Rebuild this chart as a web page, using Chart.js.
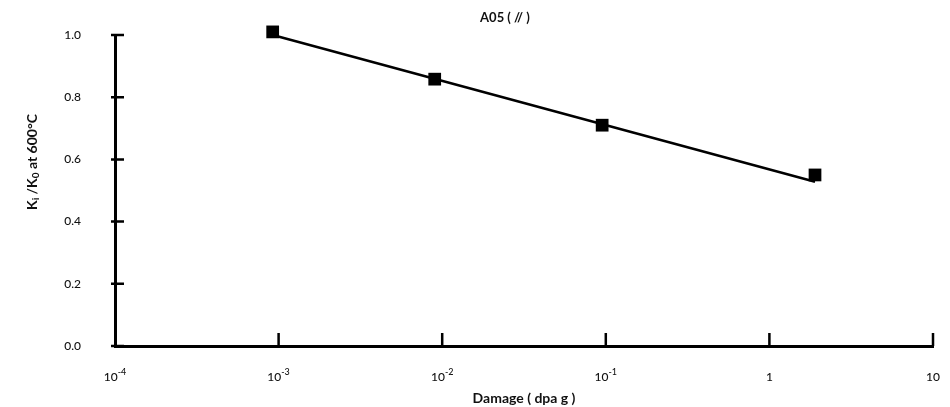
<!DOCTYPE html>
<html>
<head>
<meta charset="utf-8">
<script src="https://cdn.jsdelivr.net/npm/chart.js@4/dist/chart.umd.min.js"></script>
<style>
  html, body { margin: 0; padding: 0; background: #fff; }
  #wrap { width: 950px; height: 407px; }
</style>
</head>
<body>
<div id="wrap"><canvas id="chart"></canvas></div>
<script>
// Measured ratio vs. damage dose
const damage = [9.2e-4, 9.0e-3, 0.095, 1.9];
const ratio = [1.01, 0.858, 0.71, 0.55];

// Fitted line, end points
const fitDamage = [9.2e-4, 1.9];
const fitRatio = [1.0, 0.528];

// x tick labels: base and exponent (empty exponent = plain label)
const xTickValues = [1e-4, 1e-3, 1e-2, 1e-1, 1, 10];
const xTickBase = ['10', '10', '10', '10', '1', '10'];
const xTickExp = ['-4', '-3', '-2', '-1', '', ''];
const yTickValues = [0, 0.2, 0.4, 0.6, 0.8, 1.0];
const yTickLabels = ['0.0', '0.2', '0.4', '0.6', '0.8', '1.0'];

const FONT = 'Lato, "DejaVu Sans", sans-serif';
const INK = '#111';

// draws a run of [text, baseline shift, size, weight] pieces centred on (0, 0)
function drawRuns(ctx, parts) {
    const fontOf = p => (p[3] || 'bold') + ' ' + p[2] + 'px ' + FONT;
    let total = 0;
    parts.forEach(p => {
        ctx.font = fontOf(p);
        total += ctx.measureText(p[0]).width;
    });
    let cx = -total / 2;
    ctx.textAlign = 'left';
    parts.forEach(p => {
        ctx.font = fontOf(p);
        ctx.fillText(p[0], cx, p[1]);
        cx += ctx.measureText(p[0]).width;
    });
}

// Titles, tick labels and the small tick marks on both axes
const decorations = {
    id: 'decorations',
    afterDraw(chart) {
        const ctx = chart.ctx;
        const area = chart.chartArea;
        const x = chart.scales.x;
        const y = chart.scales.y;
        ctx.save();
        ctx.strokeStyle = '#000';
        ctx.lineWidth = 2.5;
        ctx.beginPath();
        yTickValues.forEach(v => {
            const py = y.getPixelForValue(v);
            ctx.moveTo(area.left - 4, py);
            ctx.lineTo(area.left + 9, py);
        });
        xTickValues.slice(1).forEach(v => {
            const px = x.getPixelForValue(v);
            ctx.moveTo(px, area.bottom);
            ctx.lineTo(px, area.bottom - 13);
        });
        ctx.stroke();

        ctx.fillStyle = INK;
        ctx.textBaseline = 'middle';

        ctx.font = '500 12px ' + FONT;
        ctx.textAlign = 'right';
        yTickValues.forEach((v, i) => {
            ctx.fillText(yTickLabels[i], area.left - 34, y.getPixelForValue(v));
        });

        xTickValues.forEach((v, i) => {
            ctx.save();
            ctx.translate(x.getPixelForValue(v), area.bottom + 31);
            const parts = [[xTickBase[i], 0, 12, '500']];
            if (xTickExp[i]) parts.push([xTickExp[i], -5, 9, '500']);
            drawRuns(ctx, parts);
            ctx.restore();
        });

        ctx.save();
        ctx.translate(505, 18);
        drawRuns(ctx, [['A05 ( // )', 0, 13]]);
        ctx.restore();

        ctx.save();
        ctx.translate((area.left + area.right) / 2, 398);
        drawRuns(ctx, [['Damage ( dpa g )', 0, 14]]);
        ctx.restore();

        // y label with subscripts
        ctx.translate(32, 162);
        ctx.rotate(-Math.PI / 2);
        drawRuns(ctx, [
            ['K', 0, 14], ['i', 4, 10], [' /K', 0, 14], ['0', 4, 10], [' at 600°C', 0, 14]
        ]);
        ctx.restore();
    }
};

new Chart(document.getElementById('chart'), {
    type: 'scatter',
    data: {
        datasets: [{
            label: 'fit',
            type: 'line',
            data: fitDamage.map((d, i) => ({ x: d, y: fitRatio[i] })),
            borderColor: '#000',
            borderWidth: 2.5,
            pointRadius: 0,
            clip: false,
            order: 2
        }, {
            label: 'A05',
            data: damage.map((d, i) => ({ x: d, y: ratio[i] })),
            pointStyle: 'rect',
            pointRadius: 9,
            backgroundColor: '#000',
            borderColor: '#000',
            borderWidth: 0,
            clip: false,
            order: 1
        }]
    },
    options: {
        responsive: true,
        maintainAspectRatio: false,
        animation: false,
        layout: { padding: { left: 0, right: 17, top: 35, bottom: 0 } },
        plugins: {
            legend: { display: false },
            tooltip: { enabled: false }
        },
        scales: {
            x: {
                type: 'logarithmic',
                min: 1e-4,
                max: 10,
                afterBuildTicks: scale => {
                    scale.ticks = xTickValues.map(v => ({ value: v }));
                },
                afterFit: scale => { scale.height = 61; },
                grid: { display: false, drawTicks: false },
                border: { color: '#000', width: 3 },
                ticks: { display: false }
            },
            y: {
                min: 0,
                max: 1.0,
                afterBuildTicks: scale => {
                    scale.ticks = yTickValues.map(v => ({ value: v }));
                },
                afterFit: scale => { scale.width = 115; },
                grid: { display: false, drawTicks: false },
                border: { color: '#000', width: 3 },
                ticks: { display: false }
            }
        }
    },
    plugins: [decorations]
});
</script>
</body>
</html>
